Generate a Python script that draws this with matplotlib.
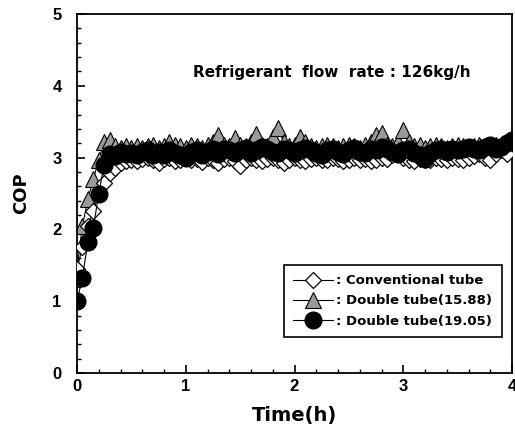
import numpy as np
import matplotlib
matplotlib.use("Agg")
import matplotlib.pyplot as plt
from matplotlib.ticker import MultipleLocator

plt.rcParams['font.family'] = ['Liberation Sans', 'DejaVu Sans']
plt.rcParams['font.weight'] = 'bold'

time_h = np.linspace(0, 4, 81)

conventional = [
    1.45, 1.75, 2.05, 2.25, 2.50, 2.65, 2.78, 2.85, 2.92, 2.95,
    2.97, 2.95, 2.98, 3.00, 2.96, 2.93, 2.98, 3.00, 2.95, 2.97,
    3.00, 2.96, 2.98, 2.94, 3.00, 2.97, 2.92, 2.98, 3.00, 2.95,
    2.88, 2.96, 3.00, 2.97, 2.95, 2.98, 3.00, 2.96, 2.92, 2.97,
    3.00, 2.97, 2.95, 2.98, 3.00, 2.96, 2.97, 3.00, 2.98, 2.95,
    2.97, 3.00, 2.96, 2.98, 2.95, 2.97, 3.00, 2.98, 3.03, 3.05,
    3.00, 2.97, 2.95, 2.98, 2.97, 2.96, 3.00, 2.98, 2.97, 3.00,
    2.98, 2.96, 3.00, 3.02, 3.05, 3.00, 2.97, 3.05, 3.10, 3.05,
    3.25]

double_1588 = [
    1.45, 2.05, 2.42, 2.70, 2.97, 3.22, 3.25, 3.16, 3.14, 3.16,
    3.14, 3.16, 3.13, 3.16, 3.18, 3.14, 3.16, 3.22, 3.18, 3.16,
    3.14, 3.18, 3.16, 3.14, 3.18, 3.22, 3.32, 3.18, 3.16, 3.27,
    3.18, 3.16, 3.22, 3.33, 3.18, 3.16, 3.28, 3.41, 3.22, 3.16,
    3.18, 3.28, 3.22, 3.16, 3.14, 3.16, 3.18, 3.16, 3.14, 3.16,
    3.18, 3.16, 3.14, 3.18, 3.22, 3.31, 3.34, 3.18, 3.16, 3.22,
    3.38, 3.22, 3.16, 3.18, 3.14, 3.16, 3.18, 3.16, 3.14, 3.16,
    3.18, 3.16, 3.14, 3.16, 3.18, 3.16, 3.14, 3.18, 3.16, 3.18,
    3.25]

double_1905 = [
    1.00, 1.33, 1.83, 2.02, 2.50, 2.90, 3.05, 3.02, 3.08, 3.05,
    3.07, 3.03, 3.08, 3.10, 3.04, 3.08, 3.03, 3.10, 3.07, 3.03,
    3.00, 3.08, 3.10, 3.04, 3.08, 3.12, 3.05, 3.12, 3.10, 3.06,
    3.10, 3.13, 3.06, 3.10, 3.15, 3.12, 3.08, 3.06, 3.12, 3.10,
    3.06, 3.10, 3.13, 3.10, 3.06, 3.03, 3.10, 3.12, 3.08, 3.05,
    3.10, 3.13, 3.08, 3.06, 3.12, 3.10, 3.15, 3.12, 3.08, 3.05,
    3.10, 3.12, 3.06, 3.03, 2.98, 3.06, 3.10, 3.12, 3.08, 3.12,
    3.10, 3.12, 3.15, 3.12, 3.10, 3.15, 3.18, 3.12, 3.15, 3.20,
    3.25]

labels = [': Conventional tube', ': Double tube(15.88)', ': Double tube(19.05)']

fig = plt.figure(figsize=(5.15, 4.30), dpi=100)
ax = fig.add_axes([77/515, 57/430, 435/515, 359/430])

ax.plot(time_h, double_1588, color='black', lw=0.8, marker='^', ms=11.5,
        mfc='#9a9a9a', mec='black', mew=0.8, zorder=2, label=labels[1])
ax.plot(time_h, conventional, color='black', lw=0.8, marker='D', ms=8,
        mfc='white', mec='black', mew=0.9, zorder=3, label=labels[0])
ax.plot(time_h, double_1905, color='black', lw=0.8, marker='o', ms=12,
        mfc='black', mec='black', zorder=4, label=labels[2])

ax.set_xlim(0, 4)
ax.set_ylim(0, 5)
ax.xaxis.set_major_locator(MultipleLocator(1))
ax.xaxis.set_minor_locator(MultipleLocator(0.2))
ax.yaxis.set_major_locator(MultipleLocator(1))
ax.yaxis.set_minor_locator(MultipleLocator(0.2))
ax.tick_params(which='both', direction='in', top=False, right=False)
ax.tick_params(which='major', length=6, width=1.2, labelsize=12)
ax.tick_params(axis='x', which='major', pad=4)
ax.tick_params(axis='y', which='major', pad=11)
ax.tick_params(which='minor', length=3, width=1)
for s in ax.spines.values():
    s.set_linewidth(1.3)
for lab in ax.get_xticklabels() + ax.get_yticklabels():
    lab.set_fontweight('bold')

ax.set_xlabel('Time(h)', fontsize=14, fontweight='bold', labelpad=9,
              family='DejaVu Sans')
ax.set_ylabel('COP', fontsize=13, fontweight='bold', labelpad=16,
              family='DejaVu Sans')

ax.text(1.07, 4.18, 'Refrigerant  flow  rate : 126kg/h', fontsize=11,
        fontweight='bold', va='center', ha='left', family='DejaVu Sans')

handles, labs = ax.get_legend_handles_labels()
order = [1, 0, 2]
leg = ax.legend([handles[i] for i in order], [labs[i] for i in order],
                loc='lower left', bbox_to_anchor=(0.46, 0.082),
                fancybox=False, edgecolor='black', framealpha=1,
                prop={'weight': 'bold', 'size': 9.5, 'family': 'DejaVu Sans'},
                handlelength=3.0, handletextpad=0.3, borderpad=0.7,
                labelspacing=0.55)
leg.get_frame().set_linewidth(1.2)

fig.savefig('out.png', dpi=100)
